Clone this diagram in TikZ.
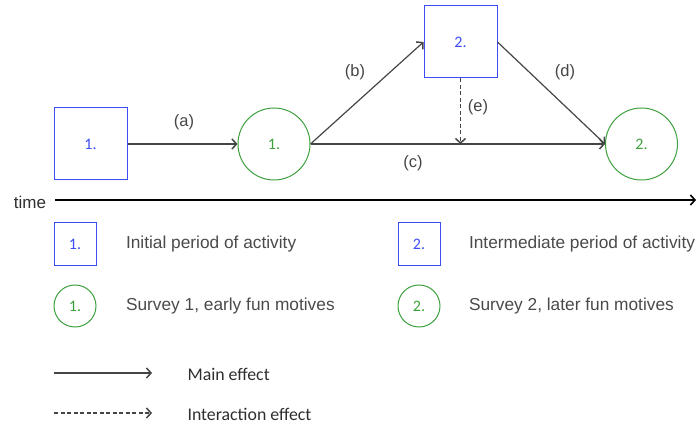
\documentclass[tikz,border=0pt]{standalone}
\usepackage{fontspec}
\setmainfont{Liberation Sans}
\newfontfamily\calibri{Carlito}
\usetikzlibrary{positioning, arrows.meta}
\definecolor{periodBlue}{HTML}{3D4DF5}
\definecolor{surveyGreen}{HTML}{3DA03D}
\definecolor{lineGrey}{HTML}{454545}
\definecolor{bodyText}{HTML}{4A4A4A}
\definecolor{keyText}{HTML}{2E2E2E}

\begin{document}
\begin{tikzpicture}[
  x=1pt, y=-1pt,
  every node/.style={font=\fontsize{15}{18}\selectfont, text=bodyText},
  period/.style={rectangle, draw=periodBlue, line width=1pt, text=periodBlue,
              minimum width=73pt, minimum height=72pt, inner sep=0pt,
              font=\calibri\fontsize{16}{18}\selectfont},
  survey/.style={circle, draw=surveyGreen, line width=1pt, text=surveyGreen,
              minimum size=72pt, inner sep=0pt,
              font=\calibri\fontsize{16}{18}\selectfont},
  legperiod/.style={period, minimum width=42pt, minimum height=43pt},
  legsurvey/.style={survey, minimum size=42pt},
  effect/.style={-{Straight Barb[length=4.5pt, width=10pt, line width=1.5pt]},
              lineGrey, line width=1.2pt},
  inter/.style={effect, dash pattern=on 4pt off 2.5pt},
  axis/.style={-{Straight Barb[length=4.5pt, width=10pt, line width=1.6pt]},
              black, line width=1.6pt},
  lbl/.style={font=\fontsize{16.5}{18}\selectfont, text=lineGrey},
  legtxt/.style={anchor=west, font=\fontsize{17.3}{20}\selectfont, text=bodyText},
  keytxt/.style={anchor=west, font=\calibri\fontsize{17.8}{20}\selectfont, text=keyText},
]
  \useasboundingbox (0,0) rectangle (699,427);

  % --- periods and surveys along time ---
  \node[period] (p1) at (90.5,144) {1.};
  \node[survey] (s1) at (274,144) {1.};
  \node[period] (p2) at (460.5,42) {2.};
  \node[survey] (s2) at (641.5,144) {2.};

  % paths between them
  \draw[effect] (p1) -- (s1);
  \draw[effect] (s1.east) -- (p2.west);
  \draw[effect] (s1.east) -- (s2.west);
  \draw[effect] (p2.east) -- (s2.west);
  \coordinate (ehit) at (p2.south |- s2.west);
  \draw[inter] (p2.south) -- (ehit);

  \node[lbl] (la) at (184,122) {(a)};
  \node[lbl] (lb) at (355,72) {(b)};
  \node[lbl] (lc) at (413,163) {(c)};
  \node[lbl] (ld) at (565,72) {(d)};
  \node[lbl] (le) at (478,107) {(e)};

  % --- time axis ---
  \node[font=\fontsize{17}{18}\selectfont, text=keyText] (time) at (30,202) {time};
  \coordinate (tstart) at (55,200);
  \coordinate (tend) at (696,200);
  \draw[axis] (tstart) -- (tend);

  % --- legend ---
  \node[legperiod] (lp1) at (75,244) {1.};
  \node[legtxt, right=26pt of lp1] (lp1txt) {Initial period of activity};
  \node[legsurvey] (ls1) at (75,306) {1.};
  \node[legtxt, right=26pt of ls1] (ls1txt) {Survey 1, early fun motives};
  \node[legperiod] (lp2) at (419,244) {2.};
  \node[legtxt, right=25pt of lp2] (lp2txt) {Intermediate period of activity};
  \node[legsurvey] (ls2) at (419,306) {2.};
  \node[legtxt, right=25pt of ls2] (ls2txt) {Survey 2, later fun motives};

  \coordinate (m0) at (54,373);
  \coordinate (m1) at (152,373);
  \draw[effect] (m0) -- (m1);
  \node[keytxt] (mtxt) at (184,374) {Main effect};
  \coordinate (i0) at (54,413);
  \coordinate (i1) at (152,413);
  \draw[inter] (i0) -- (i1);
  \node[keytxt] (itxt) at (184,414) {Interaction effect};
\end{tikzpicture}
\end{document}
